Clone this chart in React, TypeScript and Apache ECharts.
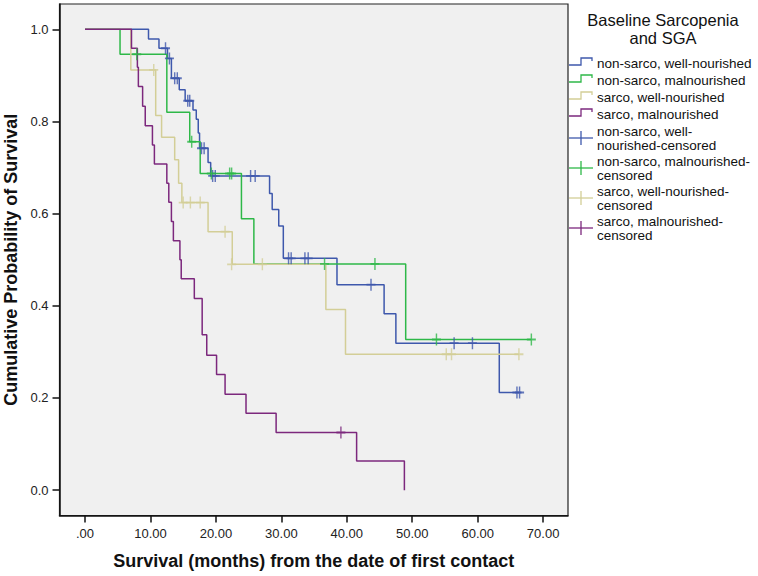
import React, { useEffect, useRef } from "react";
import * as echarts from "echarts";

// ---- data ----
const seriesNames = [
  "non-sarco, well-nourished",
  "non-sarco, malnourished",
  "sarco, well-nourished",
  "sarco, malnourished",
];
const censorLines = [
  ["non-sarco, well-", "nourished-censored"],
  ["non-sarco, malnourished-", "censored"],
  ["sarco, well-nourished-", "censored"],
  ["sarco, malnourished-", "censored"],
];
const colors = ["#3E58AC", "#2EB848", "#D3CE97", "#7C287D"];

const blueTimes = [0, 9.7, 11.3, 12.6, 13.2, 14.4, 15.3, 16.5, 17.0, 17.3, 17.5, 18.8, 19.2, 28.2, 28.6, 29.6, 30.3, 38.5, 45.7, 47.5, 63.3, 66.4];
const blueSurv = [1, 0.979, 0.959, 0.937, 0.894, 0.869, 0.845, 0.825, 0.805, 0.775, 0.742, 0.711, 0.682, 0.644, 0.609, 0.573, 0.503, 0.446, 0.383, 0.319, 0.212, 0.212];
const blueCensT = [12.3, 12.9, 13.7, 14.1, 15.7, 16.0, 17.8, 18.2, 19.5, 19.9, 25.3, 26.0, 31.1, 31.5, 33.6, 34.1, 43.7, 56.4, 59.2, 66.0, 66.4];
const blueCensS = [0.959, 0.937, 0.894, 0.894, 0.845, 0.845, 0.742, 0.742, 0.682, 0.682, 0.682, 0.682, 0.503, 0.503, 0.503, 0.503, 0.446, 0.319, 0.319, 0.212, 0.212];

const greenTimes = [0, 5.35, 12.5, 16.0, 17.6, 23.9, 25.8, 49.0, 68.2];
const greenSurv = [1, 0.946, 0.82, 0.756, 0.687, 0.589, 0.491, 0.327, 0.327];
const greenCensT = [7.9, 16.3, 19.3, 22.1, 22.4, 36.6, 44.3, 53.7, 68.2];
const greenCensS = [0.946, 0.756, 0.687, 0.687, 0.687, 0.491, 0.491, 0.327, 0.327];

const tanTimes = [0, 7.0, 10.8, 11.7, 13.7, 14.3, 14.8, 18.8, 22.5, 36.8, 39.8, 66.3];
const tanSurv = [1, 0.912, 0.813, 0.766, 0.717, 0.666, 0.624, 0.561, 0.49, 0.392, 0.295, 0.295];
const tanCensT = [10.5, 15.0, 16.1, 17.6, 21.4, 22.4, 27.1, 55.2, 56.0, 66.3];
const tanCensS = [0.912, 0.624, 0.624, 0.624, 0.561, 0.49, 0.49, 0.295, 0.295, 0.295];

const purpleTimes = [0, 7.1, 8.0, 8.15, 8.8, 9.2, 10.3, 10.6, 12.5, 12.8, 13.2, 13.5, 14.5, 14.7, 16.7, 17.9, 18.6, 20.1, 21.4, 24.6, 29.2, 41.5, 48.8];
const purpleSurv = [1, 0.959, 0.918, 0.876, 0.833, 0.791, 0.749, 0.708, 0.666, 0.625, 0.583, 0.541, 0.5, 0.459, 0.416, 0.337, 0.293, 0.251, 0.208, 0.167, 0.125, 0.063, 0];
const purpleCensT = [39.1];
const purpleCensS = [0.125];

const xTicks = [0, 10, 20, 30, 40, 50, 60, 70];
const yTicks = [0, 0.2, 0.4, 0.6, 0.8, 1.0];

const FONT = 'Arial, "Liberation Sans", sans-serif';

const zip = (a: number[], b: number[]) => a.map((v, i) => [v, b[i]]);

const curves = [
  zip(blueTimes, blueSurv),
  zip(greenTimes, greenSurv),
  zip(tanTimes, tanSurv),
  zip(purpleTimes, purpleSurv),
];
const censors = [
  zip(blueCensT, blueCensS),
  zip(greenCensT, greenCensS),
  zip(tanCensT, tanCensS),
  zip(purpleCensT, purpleCensS),
];

const PLUS = "path://M4.2,0 H5.8 V4.2 H10 V5.8 H5.8 V10 H4.2 V5.8 H0 V4.2 H4.2 Z";

function buildLegend() {
  const els: any[] = [];
  els.push({
    type: "text",
    x: 663,
    y: 20,
    style: { text: "Baseline Sarcopenia", font: `16.5px ${FONT}`, fill: "#111", align: "center", verticalAlign: "middle" },
  });
  els.push({
    type: "text",
    x: 663,
    y: 38,
    style: { text: "and SGA", font: `16.5px ${FONT}`, fill: "#111", align: "center", verticalAlign: "middle" },
  });
  const lineY = [63, 80, 97, 114];
  lineY.forEach((y, i) => {
    els.push({
      type: "polyline",
      shape: { points: [[569, y + 2], [581, y + 2], [581, y - 5], [592, y - 5], [592, y - 2]] },
      style: { stroke: colors[i], lineWidth: 1.3, fill: "none" },
    });
    els.push({
      type: "text",
      x: 597,
      y: y,
      style: { text: seriesNames[i], font: `13.5px ${FONT}`, fill: "#111", verticalAlign: "middle" },
    });
  });
  const censY = [131, 161, 191, 221];
  censY.forEach((y, i) => {
    const mid = y + 7;
    els.push({
      type: "line",
      shape: { x1: 569, y1: mid, x2: 593, y2: mid },
      style: { stroke: colors[i], lineWidth: 1.3 },
    });
    els.push({
      type: "line",
      shape: { x1: 581, y1: mid - 7, x2: 581, y2: mid + 7 },
      style: { stroke: colors[i], lineWidth: 1.3 },
    });
    censorLines[i].forEach((t, k) => {
      els.push({
        type: "text",
        x: 597,
        y: y + k * 14,
        style: { text: t, font: `13.5px ${FONT}`, fill: "#111", verticalAlign: "middle" },
      });
    });
  });
  return els;
}

export default function App() {
  const ref = useRef<HTMLDivElement>(null);
  useEffect(() => {
    if (!ref.current) return;
    const chart = echarts.init(ref.current, undefined, { renderer: "svg" });
    const series: any[] = [];
    curves.forEach((data, i) => {
      series.push({
        type: "line",
        name: seriesNames[i],
        step: "end",
        data,
        symbol: "none",
        showSymbol: false,
        lineStyle: { color: colors[i], width: 1.5 },
        z: 2 + i,
      });
    });
    censors.forEach((data, i) => {
      series.push({
        type: "scatter",
        name: censorLines[i].join(""),
        data,
        symbol: PLUS,
        symbolSize: [9, 12],
        itemStyle: { color: colors[i] },
        z: 10 + i,
      });
    });
    chart.setOption({
      animation: false,
      backgroundColor: "#ffffff",
      textStyle: { fontFamily: FONT },
      grid: {
        left: 59.5,
        right: 190,
        top: 4,
        bottom: 60.5,
        containLabel: false,
        outerBoundsMode: "none",
        show: true,
        backgroundColor: "#F0F0F0",
        borderColor: "#222",
        borderWidth: 1.2,
      },
      xAxis: {
        type: "value",
        min: -3.9,
        max: 73.8,
        name: "Survival (months) from the date of first contact",
        nameLocation: "middle",
        nameGap: 36,
        nameTextStyle: { fontSize: 18, fontWeight: "bold", color: "#111", fontFamily: FONT },
        axisLine: { show: true, onZero: false, lineStyle: { color: "#111", width: 1.5 } },
        axisTick: { show: true, customValues: xTicks, length: 7, lineStyle: { color: "#111", width: 1.5 } },
        axisLabel: {
          customValues: xTicks,
          formatter: (v: number) => (v === 0 ? ".00" : v.toFixed(2)),
          fontSize: 13,
          color: "#222",
          margin: 11,
          fontFamily: FONT,
        },
        splitLine: { show: false },
      },
      yAxis: {
        type: "value",
        min: -0.055,
        max: 1.055,
        name: "Cumulative Probability of Survival",
        nameLocation: "middle",
        nameGap: 37,
        nameTextStyle: { fontSize: 18, fontWeight: "bold", color: "#111", fontFamily: FONT },
        axisLine: { show: true, onZero: false, lineStyle: { color: "#111", width: 1.5 } },
        axisTick: { show: true, customValues: yTicks, length: 7, lineStyle: { color: "#111", width: 1.5 } },
        axisLabel: {
          customValues: yTicks,
          formatter: (v: number) => v.toFixed(1),
          fontSize: 13,
          color: "#222",
          margin: 11,
          fontFamily: FONT,
        },
        splitLine: { show: false },
      },
      graphic: buildLegend(),
      series,
    });
    return () => chart.dispose();
  }, []);
  return (
    <div
      ref={ref}
      style={{ position: "fixed", left: 0, top: 0, width: 758, height: 576, background: "#fff" }}
    />
  );
}
